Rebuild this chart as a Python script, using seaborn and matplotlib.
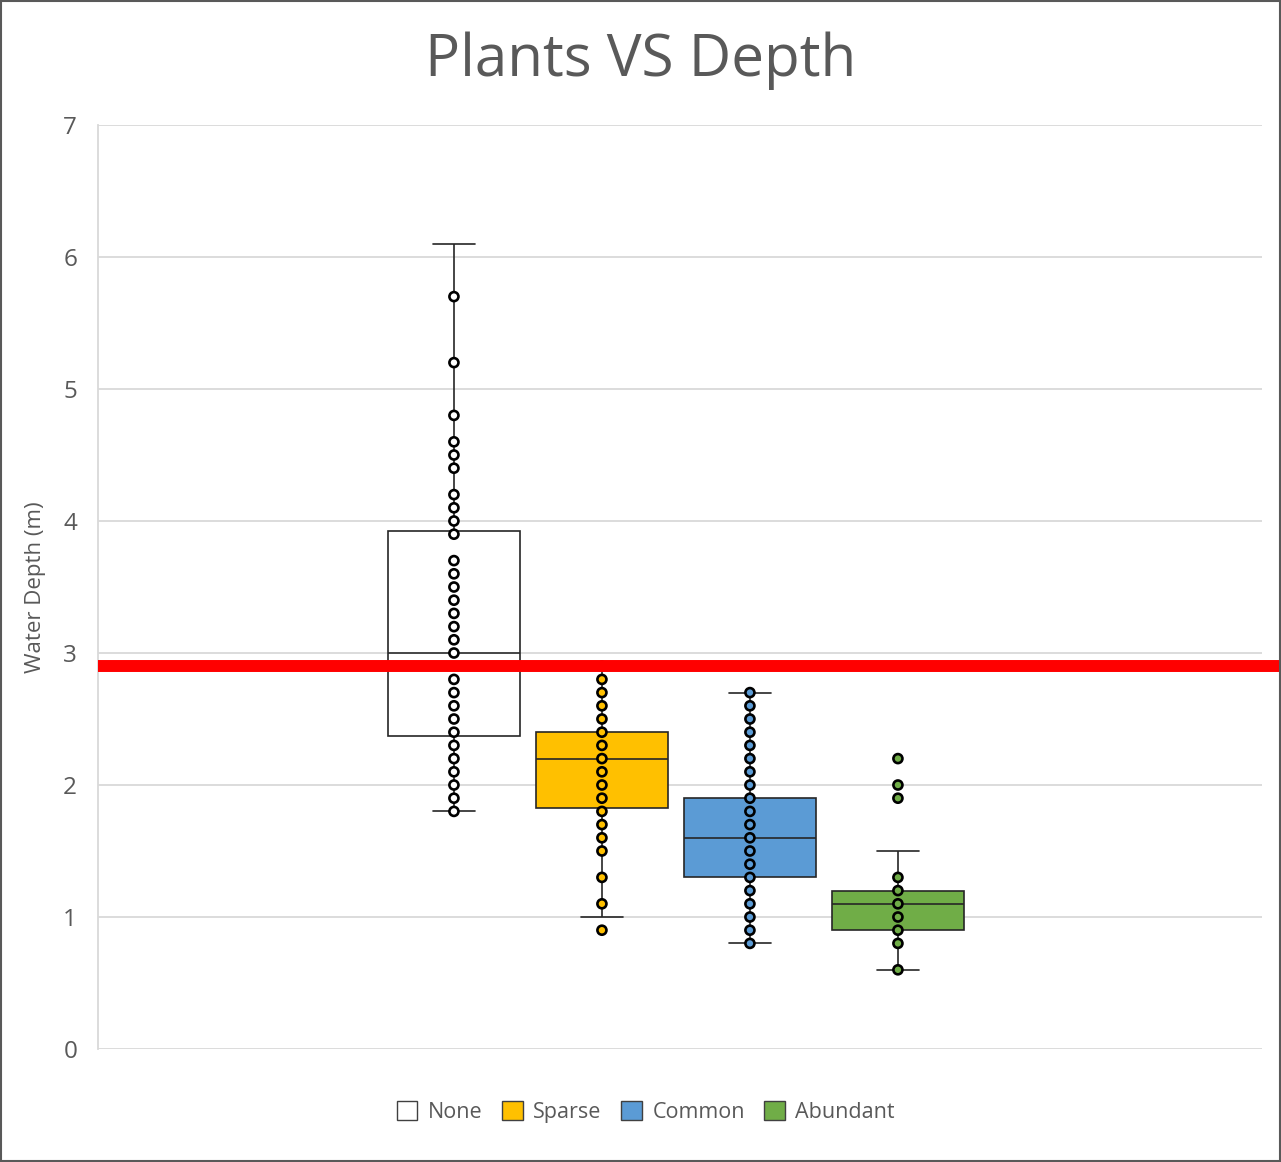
import numpy as np
import pandas as pd
import matplotlib
matplotlib.use("Agg")
import matplotlib.pyplot as plt
from matplotlib.patches import Patch
import seaborn as sns

# ---- data (with estimated repeat counts) ----
categories = ["None", "Sparse", "Common", "Abundant"]

none_values = [1.8, 1.9, 2.0, 2.1, 2.2, 2.3, 2.4, 2.5, 2.6, 2.7, 2.8, 3.0, 3.1, 3.2, 3.3,
               3.4, 3.5, 3.6, 3.7, 3.9, 4.0, 4.1, 4.2, 4.4, 4.5, 4.6, 4.8, 5.2, 5.7, 6.1]
none_counts = [2, 2, 2, 2, 2, 1, 2, 2, 2, 2, 2, 2, 2, 2, 1,
               1, 1, 1, 1, 1, 2, 1, 1, 1, 1, 1, 1, 1, 1, 1]

sparse_values = [0.9, 1.0, 1.1, 1.3, 1.5, 1.6, 1.7, 1.8, 1.9, 2.0, 2.1, 2.2, 2.3, 2.4,
                 2.5, 2.6, 2.7, 2.8, 2.9]
sparse_counts = [1, 1, 1, 1, 2, 2, 1, 2, 3, 3, 3, 5, 5, 3,
                 2, 2, 2, 2, 1]

common_values = [0.8, 0.9, 1.0, 1.1, 1.2, 1.3, 1.4, 1.5, 1.6, 1.7, 1.8, 1.9, 2.0, 2.1,
                 2.2, 2.3, 2.4, 2.5, 2.6, 2.7]
common_counts = [2, 2, 2, 2, 2, 3, 3, 3, 3, 3, 3, 3, 2, 2,
                 1, 1, 1, 1, 1, 1]

abundant_values = [0.6, 0.8, 0.9, 1.0, 1.1, 1.2, 1.3, 1.5, 1.9, 2.0, 2.2]
abundant_counts = [1, 2, 3, 2, 3, 5, 1, 1, 1, 1, 1]

# whisker-end values that the original chart draws without an inner-point marker
unmarked_none = [6.1]
unmarked_sparse = [1.0]
unmarked_common = []
unmarked_abundant = [1.5]

threshold_depth = 2.9

colors = ["#FFFFFF", "#FFC000", "#5B9BD5", "#70AD47"]
y_ticks = [0, 1, 2, 3, 4, 5, 6, 7]

# ---- build long tables ----
frames = []
point_frames = []
for cat, vals, cnts, unmarked in [("None", none_values, none_counts, unmarked_none),
                                  ("Sparse", sparse_values, sparse_counts, unmarked_sparse),
                                  ("Common", common_values, common_counts, unmarked_common),
                                  ("Abundant", abundant_values, abundant_counts, unmarked_abundant)]:
    frames.append(pd.DataFrame({"Plants": cat, "Depth": np.repeat(vals, cnts)}))
    shown = [v for v in vals if v not in unmarked]
    point_frames.append(pd.DataFrame({"Plants": cat, "Depth": shown}))
df = pd.concat(frames, ignore_index=True)
pts = pd.concat(point_frames, ignore_index=True)
palette = dict(zip(categories, colors))

# ---- figure ----
sns.set_style("white")
plt.rcParams["font.family"] = ["Open Sans", "DejaVu Sans"]
text_gray = "#595959"
grid_gray = "#D9D9D9"

fig = plt.figure(figsize=(12.81, 11.62), dpi=100)
ax = fig.add_axes([98 / 1281, 1 - 1049 / 1162, 1164 / 1281, (1049 - 125) / 1162])

sns.boxplot(data=df, x="Plants", y="Depth", hue="Plants", order=categories,
            hue_order=categories, palette=palette, width=0.89, whis=1.5,
            showfliers=False, linewidth=1.2, linecolor="#262626",
            saturation=1, legend=False, ax=ax)

sns.stripplot(data=pts, x="Plants", y="Depth", hue="Plants", order=categories,
              hue_order=categories, palette=palette, jitter=False, size=6.5,
              linewidth=1.9, edgecolor="black", legend=False, zorder=3, ax=ax)

# cap widths like the reference
for c in ax.containers:
    if hasattr(c, "caps"):
        for cap in c.caps:
            xd = np.asarray(cap.get_xdata(), dtype=float)
            mid = xd.mean()
            cap.set_xdata([mid - 0.142, mid + 0.142])

# threshold line
ax.plot([0, 1.02], [threshold_depth, threshold_depth], transform=ax.get_yaxis_transform(),
        color="#FF0000", linewidth=8.6, solid_capstyle="butt", clip_on=False, zorder=5)

# axes styling
ax.set_xlim(-2.405, 5.46)
ax.set_ylim(0, 7)
ax.set_yticks(y_ticks)
ax.set_xticks([])
ax.set_xlabel("")
ax.set_ylabel("Water Depth (m)", fontsize=16, color=text_gray, labelpad=12)
ax.tick_params(axis="y", length=0, pad=15, labelsize=17.5, labelcolor=text_gray)
ax.grid(axis="y", color=grid_gray, linewidth=1.3, zorder=0)
ax.set_axisbelow(True)
for side in ["top", "right", "bottom"]:
    ax.spines[side].set_visible(False)
ax.spines["left"].set_color(grid_gray)
ax.spines["left"].set_linewidth(1.3)

fig.suptitle("Plants VS Depth", x=641 / 1281, y=1 - 31 / 1162, va="top",
             fontsize=42, color=text_gray)

handles = [Patch(facecolor=palette[c], edgecolor="#404040", linewidth=1.0, label=c)
           for c in categories]
fig.legend(handles=handles, loc="center", bbox_to_anchor=(646 / 1281, 1 - 1112 / 1162),
           ncol=4, frameon=False, fontsize=15.5, labelcolor=text_gray,
           handlelength=0.95, handleheight=0.95, handletextpad=0.5, columnspacing=0.9)

# chart border
fig.patches.append(plt.Rectangle((0.001, 0.001), 0.998, 0.998, transform=fig.transFigure,
                                 fill=False, edgecolor="#595959", linewidth=1.5))

fig.savefig("out.png", dpi=100, facecolor="white")
